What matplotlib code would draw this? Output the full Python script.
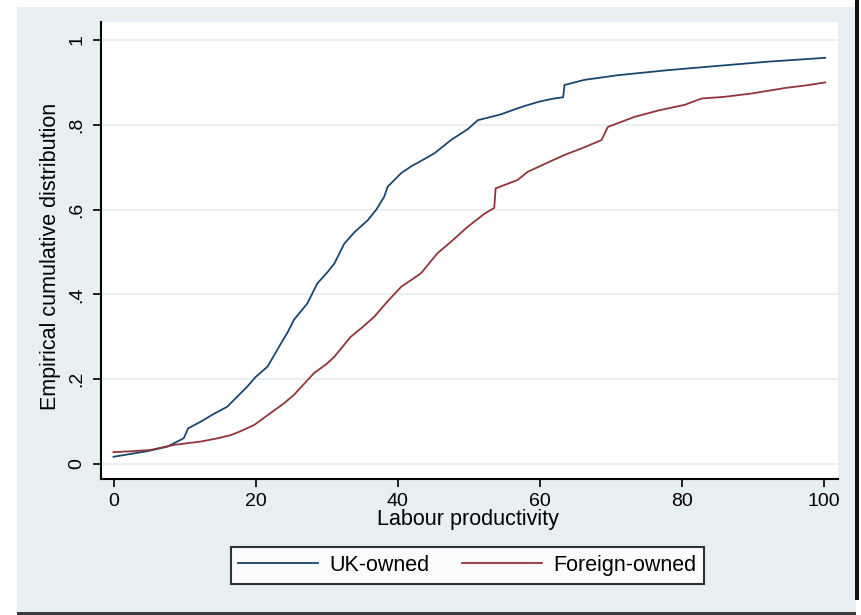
import matplotlib
matplotlib.use("Agg")
import matplotlib.pyplot as plt
from matplotlib.patches import Rectangle

plt.rcParams['font.family'] = ['Liberation Sans', 'DejaVu Sans']

# Data (empirical CDFs)
uk_x = [0.0, 2.9, 5.0, 7.6, 9.9, 10.5, 12.3, 14.0, 16.0, 18.8, 20.0, 21.7, 23.6, 24.5,
        25.4, 27.3, 28.7, 30.0, 31.1, 32.5, 34.0, 35.8, 37.0, 38.1, 38.6, 40.5, 42.0,
        43.0, 45.2, 47.5, 49.9, 51.3, 53.0, 54.6, 56.9, 58.0, 60.0, 62.0, 63.3, 63.5,
        66.3, 71.0, 78.1, 85.1, 92.2, 100.2]
uk_y = [0.017, 0.025, 0.031, 0.041, 0.061, 0.084, 0.100, 0.117, 0.135, 0.182, 0.205,
        0.230, 0.285, 0.310, 0.340, 0.379, 0.426, 0.450, 0.473, 0.520, 0.548, 0.575,
        0.600, 0.630, 0.654, 0.686, 0.703, 0.712, 0.733, 0.764, 0.790, 0.811, 0.818,
        0.825, 0.839, 0.845, 0.855, 0.862, 0.865, 0.894, 0.906, 0.917, 0.929, 0.939,
        0.949, 0.958]

fo_x = [0.0, 2.5, 5.2, 8.5, 12.3, 14.5, 16.5, 18.0, 19.8, 22.1, 24.0, 25.4, 27.0, 28.2,
        30.0, 31.1, 33.4, 35.0, 36.7, 38.5, 40.5, 42.0, 43.3, 45.6, 47.5, 49.9, 52.2,
        53.6, 53.8, 56.9, 58.3, 61.0, 63.5, 66.0, 68.7, 69.6, 73.4, 77.0, 80.4, 82.8,
        86.0, 89.9, 94.6, 97.5, 100.2]
fo_y = [0.028, 0.030, 0.033, 0.045, 0.053, 0.060, 0.068, 0.078, 0.092, 0.120, 0.143,
        0.163, 0.192, 0.214, 0.236, 0.253, 0.300, 0.322, 0.347, 0.382, 0.418, 0.435,
        0.450, 0.497, 0.524, 0.560, 0.590, 0.604, 0.650, 0.670, 0.689, 0.710, 0.729,
        0.745, 0.764, 0.795, 0.819, 0.835, 0.847, 0.862, 0.866, 0.874, 0.887, 0.893,
        0.900]

x_ticks = [0, 20, 40, 60, 80, 100]
y_ticks = [0, 0.2, 0.4, 0.6, 0.8, 1.0]
y_tick_labels = ['0', '.2', '.4', '.6', '.8', '1']
series_names = ['UK-owned', 'Foreign-owned']
series_colors = ['#1a476f', '#90353b']

W, H = 861, 615
fig = plt.figure(figsize=(W / 100, H / 100), dpi=100)
fig.patch.set_facecolor('white')

def fx(px):
    return px / W

def fy(py):
    return 1 - py / H

# outer graph region (screenshot framing)
for rect in [
    Rectangle((fx(17), fy(612)), fx(856) - fx(17), fy(7) - fy(612), facecolor='#e8eff2'),
    Rectangle((fx(855), fy(600)), fx(859) - fx(855), 1 - fy(600), facecolor='#111111'),
    Rectangle((fx(17), 0), fx(856) - fx(17), fy(612), facecolor='#3a3a3a'),
]:
    rect.set_transform(fig.transFigure)
    rect.set_edgecolor('none')
    rect.set_zorder(-10)
    fig.add_artist(rect)

left, right, top, bottom = 101, 838, 22, 479
ax = fig.add_axes([fx(left), fy(bottom), fx(right) - fx(left), fy(top) - fy(bottom)])
ax.set_zorder(1)
ax.set_facecolor('white')

l1, = ax.plot(uk_x, uk_y, color=series_colors[0], lw=1.3, label=series_names[0])
l2, = ax.plot(fo_x, fo_y, color=series_colors[1], lw=1.3, label=series_names[1])

ax.set_xlim(-1.76, 102.0)
ax.set_ylim(-0.0354, 1.0425)
ax.set_xticks(x_ticks)
ax.set_yticks(y_ticks)
ax.set_yticklabels(y_tick_labels, rotation=90, va='center')
ax.grid(True, axis='y', color='#e6ecef', lw=1.2)
ax.set_axisbelow(True)

for s in ['top', 'right']:
    ax.spines[s].set_visible(False)
for s in ['left', 'bottom']:
    ax.spines[s].set_linewidth(1.5)
    ax.spines[s].set_color('black')

ax.tick_params(axis='both', length=6, width=1.2, color='black', labelsize=14)
ax.tick_params(axis='x', pad=4)
ax.tick_params(axis='y', pad=5)

ax.set_xlabel('Labour productivity', fontsize=15.5)
ax.xaxis.label.set_va('baseline')
ax.xaxis.set_label_coords((467.5 - left) / (right - left), (bottom - 525) / (bottom - top))
ax.set_ylabel('Empirical cumulative distribution', fontsize=15.5)
ax.yaxis.label.set_va('center')
ax.yaxis.set_label_coords((51 - left) / (right - left), (bottom - 256.5) / (bottom - top))

leg = fig.legend([l1, l2], series_names, loc='center',
                 bbox_to_anchor=(fx(467.5), fy(565.5)), ncol=2, fontsize=15.5,
                 frameon=True, fancybox=False, handlelength=3.7, handletextpad=0.55,
                 columnspacing=1.5, borderpad=0.35, borderaxespad=0)
leg.get_frame().set_edgecolor('black')
leg.get_frame().set_linewidth(1.5)
leg.get_frame().set_facecolor('white')
leg.set_zorder(2)

fig.savefig('out.png', dpi=100, facecolor=fig.get_facecolor())
